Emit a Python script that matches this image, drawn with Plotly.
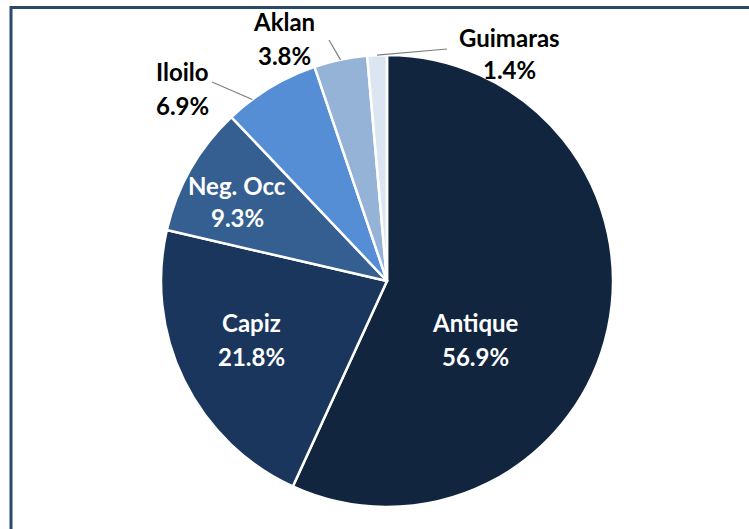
import math
import plotly.graph_objects as go

# share of total by province
provinces = ["Antique", "Capiz", "Neg. Occ", "Iloilo", "Aklan", "Guimaras"]
shares = [56.9, 21.8, 9.3, 6.9, 3.8, 1.4]
colors = ["#12253f", "#1a365d", "#365f91", "#558ed5", "#95b3d7", "#dce6f2"]

W, H = 749, 529
CX, CY, R = 387, 281, 226  # pie centre / radius in pixels

# label anchor (pixels), text colour, has leader line
label_pos = {
    "Antique": (475, 323, "white", False),
    "Capiz": (251, 323, "white", False),
    "Neg. Occ": (237, 185, "white", False),
    "Iloilo": (182, 72, "black", True),
    "Aklan": (284, 22, "black", True),
    "Guimaras": (509, 37, "black", True),
}
# where the leader starts, and how far along its slice it touches the rim
line_start = {"Iloilo": (212, 82), "Aklan": (329, 40), "Guimaras": (447, 49)}
line_frac = {"Iloilo": 0.28, "Aklan": 0.5, "Guimaras": 0.5}


def px(x):
    return x / W


def py(y):
    return 1 - y / H


fig = go.Figure(go.Pie(
    labels=provinces,
    values=shares,
    sort=False,
    direction="clockwise",
    rotation=0,
    textinfo="none",
    hoverinfo="label+percent",
    marker=dict(colors=colors, line=dict(color="white", width=2.5)),
    domain=dict(x=[px(CX - R), px(CX + R)], y=[py(CY + R), py(CY - R)]),
    showlegend=False,
))

font_name = "Lato"
annotations = []
shapes = []
total = sum(shares)
cum = 0
for name, val in zip(provinces, shares):
    lx, ly, col, lead = label_pos[name]
    for i, txt in enumerate([name, f"{val:.1f}%"]):
        annotations.append(dict(
            x=px(lx), y=py(ly + i * 33), xref="paper", yref="paper",
            text=f"<b>{txt}</b>", showarrow=False,
            font=dict(family=font_name, size=24, color=col),
            xanchor="center", yanchor="middle",
        ))
    if lead:
        ang = (cum + val * line_frac[name]) / total * 2 * math.pi
        ex = CX + R * math.sin(ang)
        ey = CY - R * math.cos(ang)
        sx, sy = line_start[name]
        shapes.append(dict(type="line", xref="paper", yref="paper",
                           x0=px(sx), y0=py(sy), x1=px(ex), y1=py(ey),
                           line=dict(color="#7f7f7f", width=1.2)))
    cum += val

# chart frame
shapes.append(dict(type="rect", xref="paper", yref="paper",
                   x0=px(11), y0=py(540), x1=px(760), y1=py(7.5),
                   line=dict(color="#2b4a6b", width=3)))

fig.update_layout(
    width=W, height=H,
    margin=dict(l=0, r=0, t=0, b=0),
    paper_bgcolor="white",
    plot_bgcolor="white",
    annotations=annotations,
    shapes=shapes,
)

# drop the default page margin so the figure sits at the window corner
fig.write_html("out.html", config={"displayModeBar": False},
               post_script="document.body.style.margin='0';")
